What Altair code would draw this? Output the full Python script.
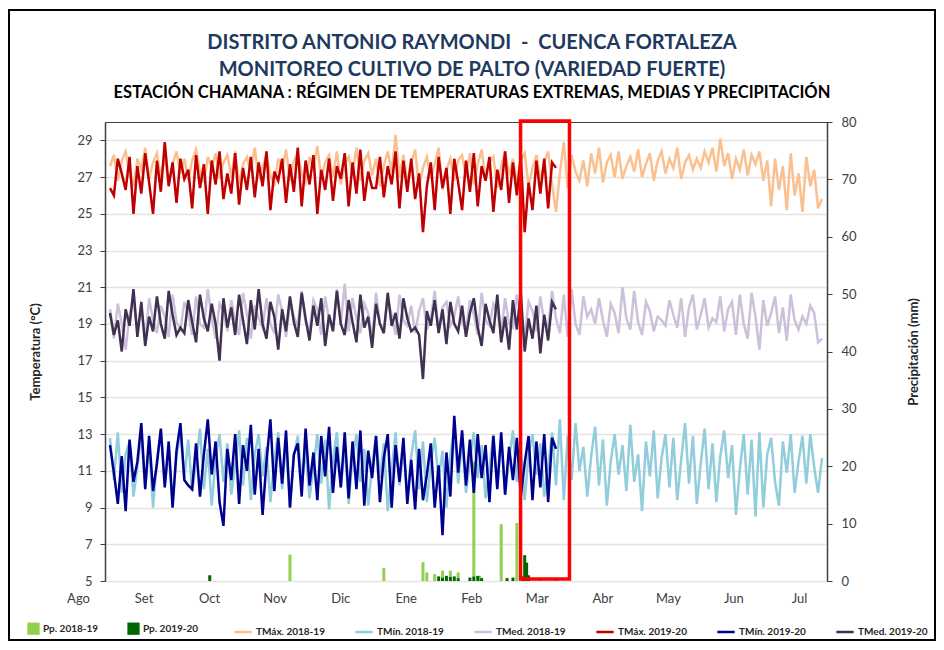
import altair as alt
import pandas as pd

# ---------------- data ----------------
meses = ["Ago", "Set", "Oct", "Nov", "Dic", "Ene", "Feb", "Mar", "Abr", "May", "Jun", "Jul"]
inicio_mes = [0, 31, 61, 92, 122, 153, 184, 212, 243, 273, 304, 334]
temp_ticks = [5, 7, 9, 11, 13, 15, 17, 19, 21, 23, 25, 27, 29]
pp_ticks = [0, 10, 20, 30, 40, 50, 60, 70, 80]

# daily series read every 2 days, starting 1 Aug
tmax_1819 = [27.6, 28.2, 26.8, 27.9, 28.4, 27.1, 26.5, 28.0, 27.4, 28.6, 26.9, 27.8, 28.3, 27.0, 28.1, 26.6,
             27.7, 28.4, 27.2, 28.0, 26.8, 27.9, 28.5, 27.3, 26.7, 28.1, 27.5, 28.3, 26.9, 27.8, 28.2,
             27.0, 28.4, 26.6, 27.7, 28.1, 27.3, 28.6, 26.9, 27.6, 28.2, 27.1, 26.5, 28.0, 27.4, 28.5,
             26.8, 27.9, 28.3, 27.2, 26.7, 28.1, 27.5, 28.7, 26.9, 27.8, 28.2, 27.0, 28.4, 26.6, 27.7,
             28.1, 27.2, 28.6, 26.8, 27.9, 28.3, 27.1, 28.0, 26.5, 27.6, 28.4, 27.3, 29.3, 27.0, 28.2,
             26.7, 27.8, 28.5, 26.4, 27.5, 28.1, 26.9, 27.7, 28.6, 26.3, 27.4, 28.0, 26.8, 27.9, 28.2,
             27.0, 28.3, 26.6, 27.7, 28.5, 26.9, 27.8, 28.1, 26.4, 27.6, 28.4, 27.1, 28.0, 26.7, 27.9,
             28.3, 26.5, 27.5, 28.2, 26.9, 27.8, 28.4, 26.6, 25.1, 27.2, 28.9, 26.4, 28.2, 27.3, 26.8,
             27.9, 26.5, 28.3, 27.2, 28.6, 26.7, 27.8, 28.2, 27.0, 28.4, 26.9, 27.6, 28.1, 27.3, 28.5,
             27.0, 27.7, 28.3, 26.8, 27.9, 28.4, 27.2, 28.0, 27.5, 28.6, 26.9, 27.8, 28.2, 27.4, 28.0,
             27.5, 28.4, 27.8, 28.6, 27.3, 29.1, 27.6, 28.3, 26.9, 28.0, 27.4, 28.5, 27.1, 28.2, 27.7,
             28.4, 26.8, 27.9, 25.4, 28.0, 26.3, 27.6, 25.2, 28.3, 26.0, 27.2, 25.1, 28.1, 26.5, 27.4,
             25.3, 25.8]
tmin_1819 = [12.8, 10.5, 13.1, 9.8, 11.9, 12.6, 9.6, 11.2, 13.0, 10.1, 12.4, 9.0, 11.6, 13.2, 10.3, 12.0,
             9.2, 11.8, 13.1, 10.6, 12.7, 9.9, 11.4, 13.3, 10.0, 12.2, 9.1, 11.7, 13.0, 10.4, 12.5,
             9.7, 11.3, 13.2, 10.2, 12.8, 9.4, 11.9, 13.0, 10.7, 12.3, 9.3, 11.5, 13.1, 10.0, 12.6,
             9.0, 11.8, 12.9, 10.5, 12.1, 9.5, 11.2, 13.0, 10.3, 12.7, 8.9, 11.6, 13.1, 10.1, 12.4,
             9.2, 11.7, 13.0, 10.4, 12.2, 9.1, 11.3, 12.9, 10.6, 12.5, 8.8, 11.0, 13.1, 10.2, 12.3,
             9.6, 11.8, 13.2, 10.0, 12.6, 9.3, 11.4, 12.8, 10.5, 12.1, 9.0, 11.9, 13.3, 10.3, 12.7,
             9.8, 11.5, 13.1, 10.6, 12.4, 9.5, 11.2, 13.0, 10.1, 12.8, 9.7, 11.6, 13.2, 10.4, 12.2,
             9.4, 11.9, 13.0, 10.8, 12.5, 9.6, 11.3, 13.1, 10.2, 13.8, 9.4, 12.9, 10.5, 13.6, 11.0,
             12.3, 9.6, 11.8, 13.4, 10.2, 12.7, 9.1, 11.5, 13.0, 10.8, 12.4, 9.9, 13.5, 10.4, 11.9,
             8.8, 12.6, 10.7, 13.2, 9.5, 11.7, 13.0, 10.1, 12.8, 9.4, 11.6, 13.6, 10.3, 12.9, 9.2,
             11.4, 13.3, 10.0, 12.5, 9.3, 11.8, 13.2, 10.6, 12.4, 8.6, 11.1, 13.0, 9.7, 12.7, 8.5,
             13.1, 9.0, 11.9, 12.8, 10.4, 9.1, 12.6, 10.9, 13.0, 9.8, 11.5, 12.9, 10.3, 13.0, 11.2,
             9.8, 11.7]
tmed_1819 = [19.8, 18.2, 20.1, 19.0, 17.6, 19.5, 20.3, 18.6, 19.9, 18.1, 20.4, 19.2, 18.5, 20.0, 19.4, 18.3,
             20.6, 19.1, 18.7, 20.2, 19.6, 18.4, 20.5, 19.0, 18.8, 20.9, 19.3, 18.2, 20.1, 19.7, 18.6,
             20.3, 19.1, 18.4, 20.7, 19.5, 18.2, 20.0, 19.3, 18.8, 20.4, 19.0, 18.5, 20.6, 19.7, 18.3,
             20.2, 19.4, 18.9, 20.8, 19.1, 18.6, 20.3, 19.8, 18.4, 20.5, 19.2, 18.7, 20.9, 19.0, 21.2,
             18.6, 20.4, 19.3, 18.5, 20.1, 19.6, 18.2, 20.7, 19.0, 18.8, 20.3, 19.5, 18.4, 20.6, 19.2,
             18.9, 20.0, 18.5, 19.7, 20.4, 18.7, 19.3, 20.8, 18.6, 19.9, 20.2, 18.9, 19.4, 20.5, 19.1,
             18.6, 20.3, 19.5, 18.4, 20.7, 19.2, 18.9, 20.1, 19.6, 18.5, 20.4, 19.0, 18.8, 20.6, 19.4,
             18.3, 20.2, 19.7, 18.6, 20.5, 19.1, 18.9, 20.8, 19.3, 18.5, 20.6, 18.3, 20.9, 19.0, 18.4,
             20.5, 19.4, 19.8, 19.0, 20.4, 19.2, 18.3, 20.1, 19.6, 18.5, 21.0, 19.3, 18.7, 20.8, 19.1,
             18.4, 20.2, 19.7, 18.6, 19.4, 19.2, 18.9, 20.3, 19.5, 18.8, 20.4, 18.3, 19.9, 20.6, 18.7,
             19.5, 20.4, 18.8, 19.3, 19.1, 20.5, 18.6, 19.8, 20.2, 18.4, 20.6, 19.0, 18.2, 20.7, 19.4,
             17.6, 20.3, 18.9, 19.6, 20.5, 18.5, 19.9, 18.1, 20.6, 19.2, 18.7, 19.4, 19.0, 20.0, 19.6,
             18.0, 18.2]
tmax_1920 = [26.4, 26.0, 28.0, 27.2, 26.3, 28.1, 25.0, 27.6, 26.1, 28.3, 26.7, 25.0, 27.9, 26.2, 28.9, 26.5,
             27.8, 25.6, 28.0, 26.9, 27.4, 25.3, 28.2, 26.4, 27.7, 25.0, 27.9, 26.6, 28.4, 25.8, 27.2,
             26.1, 28.3, 25.5, 27.5, 26.3, 28.1, 25.9, 27.8, 26.5, 28.4, 25.2, 27.3, 26.8, 28.0, 25.6,
             27.7, 26.2, 28.6, 25.4, 27.9, 26.6, 28.2, 25.0, 27.4, 26.3, 28.0, 25.7, 27.6, 26.9, 28.3,
             25.4, 27.8, 26.1, 28.5, 25.7, 27.3, 26.4, 26.4, 28.1, 25.9, 27.6, 26.6, 28.4, 25.3, 27.9,
             26.2, 28.0, 25.8, 27.2, 24.0, 26.5, 27.8, 25.2, 28.1, 26.4, 27.5, 25.0, 28.0, 26.7, 25.2,
             27.9, 26.2, 28.3, 25.4, 27.6, 26.8, 28.1, 25.1, 27.4, 26.3, 28.4, 25.6, 27.8, 26.0, 28.2,
             24.0, 26.7, 25.2, 27.9, 26.1, 28.0, 25.3, 27.8, 27.5]
tmin_1920 = [12.4, 10.9, 9.2, 11.8, 8.8, 12.7, 10.4, 11.5, 13.6, 10.0, 12.9, 9.9, 11.4, 13.3, 10.1, 12.6,
             9.0, 12.1, 13.6, 10.5, 10.2, 10.0, 12.5, 9.6, 11.9, 13.8, 10.8, 12.6, 9.3, 8.0, 12.2,
             10.5, 13.0, 9.2, 12.4, 11.0, 13.5, 9.7, 12.2, 8.6, 11.5, 13.8, 9.9, 12.8, 10.3, 13.2,
             9.0, 11.9, 12.5, 9.6, 13.3, 10.2, 12.0, 9.4, 12.9, 10.7, 13.4, 9.8, 12.3, 10.1, 13.1,
             9.5, 12.6, 10.0, 13.2, 9.1, 12.1, 10.6, 12.9, 9.3, 11.7, 13.0, 9.0, 12.4, 10.4, 12.8,
             9.2, 11.6, 8.9, 12.2, 9.4, 10.8, 12.5, 9.0, 11.3, 7.5, 12.0, 9.6, 14.0, 10.9, 13.2,
             10.2, 12.7, 9.8, 13.0, 10.6, 12.4, 9.3, 12.9, 10.0, 13.1, 9.7, 12.3, 10.5, 12.8, 9.6,
             11.4, 12.9, 9.4, 12.6, 10.1, 13.0, 9.3, 12.8, 12.2]
tmed_1920 = [19.6, 18.4, 19.2, 17.5, 19.8, 18.9, 20.9, 18.3, 20.2, 17.8, 19.4, 18.6, 20.5, 19.0, 18.2, 20.8,
             19.5, 18.4, 18.8, 18.5, 20.3, 19.1, 18.0, 20.6, 19.3, 18.6, 20.1, 19.0, 17.0, 20.4, 18.8,
             19.9, 18.4, 20.6, 19.2, 17.9, 20.3, 18.7, 20.9, 19.0, 18.2, 20.2, 19.4, 17.6, 19.8, 18.6,
             20.5, 19.1, 18.3, 20.7, 19.3, 18.1, 20.0, 18.9, 20.4, 17.8, 19.5, 18.6, 20.8, 19.0, 18.4,
             20.3, 19.1, 18.0, 20.6, 18.8, 19.4, 17.7, 20.1, 19.0, 18.5, 20.7, 18.9, 19.6, 18.2, 20.4,
             19.3, 18.6, 18.8, 18.4, 16.0, 19.7, 18.9, 20.3, 18.5, 19.8, 17.9, 20.2, 19.0, 18.6, 20.0,
             18.3, 19.6, 20.4, 18.8, 17.8, 20.1, 19.2, 18.5, 20.6, 18.0, 19.4, 17.6, 20.3, 18.7, 20.7,
             17.5, 19.3, 18.2, 20.0, 17.4, 19.5, 18.1, 20.2, 19.8]

pp_1819_dia = [92, 140, 160, 162, 166, 170, 174, 178, 186, 189, 200, 208, 220, 228]
pp_1819_mm = [4.6, 2.3, 3.3, 1.5, 1.2, 1.2, 1.1, 1.0, 20.0, 0.9, 9.9, 10.1, 0.4, 0.3]
pp_1920_dia = [51, 168, 170, 172, 174, 176, 178, 184, 186, 188, 190, 203, 206, 211, 212, 213, 214]
pp_1920_mm = [1.0, 0.8, 0.6, 0.9, 0.7, 0.8, 0.5, 0.6, 0.8, 0.9, 0.5, 0.5, 0.6, 0.8, 4.5, 3.2, 1.0]

series_pp = ["Pp. 2018-19", "Pp. 2019-20"]
colores_pp = ["#92D050", "#006600"]
series_t = ["TMáx. 2018-19", "TMín. 2018-19", "TMed. 2018-19",
            "TMáx. 2019-20", "TMín. 2019-20", "TMed. 2019-20"]
colores_t = ["#FAC090", "#92CDDC", "#CCC0DA", "#C00000", "#000090", "#403151"]

# highlighted period (red box), in data units
recuadro_dia = [209.9, 234.9]
recuadro_temp = [30.05, 5.11]

# ---------------- tables ----------------
def tabla(valores, nombre):
    return pd.DataFrame({"dia": [2 * i for i in range(len(valores))],
                         "valor": valores, "serie": nombre})

t1819 = pd.concat([tabla(tmax_1819, series_t[0]), tabla(tmin_1819, series_t[1]),
                   tabla(tmed_1819, series_t[2])], ignore_index=True)
t1920 = pd.concat([tabla(tmax_1920, series_t[3]), tabla(tmin_1920, series_t[4]),
                   tabla(tmed_1920, series_t[5])], ignore_index=True)
pp = pd.concat([
    pd.DataFrame({"dia": pp_1819_dia, "mm": pp_1819_mm, "serie": series_pp[0]}),
    pd.DataFrame({"dia": pp_1920_dia, "mm": pp_1920_mm, "serie": series_pp[1]}),
], ignore_index=True)
caja = pd.DataFrame({"dia": [recuadro_dia[0]], "dia2": [recuadro_dia[1]],
                     "valor": [recuadro_temp[0]], "valor2": [recuadro_temp[1]]})

FONT = "Lato"
AX = "#404040"

xscale = alt.Scale(domain=[0, 364], nice=False, zero=False)
yscale = alt.Scale(domain=[5, 30], nice=False, zero=False)

x_axis = alt.Axis(orient="bottom", values=inicio_mes, labels=False, ticks=True, tickSize=5,
                  grid=False, title=None, domainColor=AX, domainWidth=1.5,
                  tickColor=AX, tickWidth=1.2)
y_axis = alt.Axis(orient="left", values=temp_ticks, title="Temperatura (°C)", grid=True,
                  gridColor="#E4E4E4", gridWidth=1.5, tickSize=5, labelPadding=8,
                  titlePadding=34, domainColor=AX, domainWidth=1.5, tickColor=AX)

leg_common = dict(orient="none", direction="horizontal", title=None, labelFont=FONT,
                  labelFontSize=10, labelFontWeight="bold", labelColor="#262626",
                  labelOffset=3)
fill_legend = alt.Legend(legendX=-78, legendY=500, columns=2, symbolType="square",
                         symbolSize=150, symbolStrokeWidth=0, columnPadding=28, **leg_common)
stroke_legend = alt.Legend(legendX=128, legendY=500, columns=6, symbolType="stroke",
                           symbolSize=300, symbolStrokeWidth=2.5, columnPadding=25,
                           **leg_common)

color_t = alt.Stroke("serie:N", scale=alt.Scale(domain=series_t, range=colores_t),
                     legend=stroke_legend)

lines_1819 = alt.Chart(t1819).mark_line(strokeWidth=2.5).encode(
    x=alt.X("dia:Q", scale=xscale, axis=x_axis),
    y=alt.Y("valor:Q", scale=yscale, axis=y_axis),
    stroke=color_t,
)
lines_1920 = alt.Chart(t1920).mark_line(strokeWidth=2.5).encode(
    x=alt.X("dia:Q", scale=xscale, axis=x_axis),
    y=alt.Y("valor:Q", scale=yscale, axis=y_axis),
    stroke=color_t,
)
rec = alt.Chart(caja).mark_rect(fillOpacity=0, stroke="#FF0000", strokeWidth=3.5).encode(
    x=alt.X("dia:Q", scale=xscale, axis=x_axis),
    x2="dia2:Q",
    y=alt.Y("valor:Q", scale=yscale, axis=y_axis),
    y2="valor2:Q",
)

bars = alt.Chart(pp).mark_bar(size=3, orient="vertical").encode(
    x=alt.X("dia:Q", scale=xscale, axis=None),
    y=alt.Y("mm:Q", scale=alt.Scale(domain=[0, 80], nice=False),
            axis=alt.Axis(orient="right", values=pp_ticks, title="Precipitación (mm)",
                          grid=False, tickSize=5, labelPadding=9, titlePadding=64,
                          titleAngle=270, domainColor=AX, domainWidth=1.5, tickColor=AX)),
    fill=alt.Fill("serie:N", scale=alt.Scale(domain=series_pp, range=colores_pp),
                  legend=fill_legend),
)

etiquetas = alt.Chart(pd.DataFrame({"mes": meses})).mark_point(opacity=0).encode(
    x=alt.X("mes:N", sort=meses, scale=alt.Scale(range=[-27, 694], padding=0),
            axis=alt.Axis(orient="bottom", ticks=False, tickSize=0, domain=False, grid=False,
                          title=None, labelAngle=0, labelPadding=11, labelAlign="center",
                          labelBaseline="top")),
)

marco = alt.Chart(pd.DataFrame({"k": [0]})).mark_rect(
    fillOpacity=0, stroke="#000000", strokeWidth=2
).encode(x=alt.value(-96), x2=alt.value(830), y=alt.value(-112), y2=alt.value(518))

temp = alt.layer(lines_1819, lines_1920, rec)
main = alt.layer(bars, temp).resolve_scale(y="independent")

chart = alt.layer(main, etiquetas, marco).resolve_scale(
    x="independent", y="independent"
).properties(
    width=722, height=459,
    padding={"left": 0, "top": 1, "right": 0, "bottom": 0},
    title=alt.Title(
        text=["DISTRITO ANTONIO RAYMONDI\u00a0 -\u00a0 CUENCA FORTALEZA",
              "MONITOREO CULTIVO DE PALTO (VARIEDAD FUERTE)"],
        subtitle="ESTACIÓN CHAMANA : RÉGIMEN DE TEMPERATURAS EXTREMAS, MEDIAS Y PRECIPITACIÓN",
        anchor="middle", frame="bounds", font=FONT, fontSize=20, fontWeight="bold",
        color="#1F3A60", lineHeight=27, subtitleFont=FONT, subtitleFontSize=16.5,
        subtitleFontWeight="bold", subtitleColor="#000000", subtitlePadding=5, offset=-92,
    ),
).configure_view(
    stroke=AX, strokeWidth=1
).configure_axis(
    labelFont=FONT, labelFontSize=13, labelColor=AX, titleFont=FONT, titleFontSize=13,
    titleFontWeight="bold", titleColor="#262626",
)

chart.save("out.html", embed_options={"renderer": "svg", "actions": False})
